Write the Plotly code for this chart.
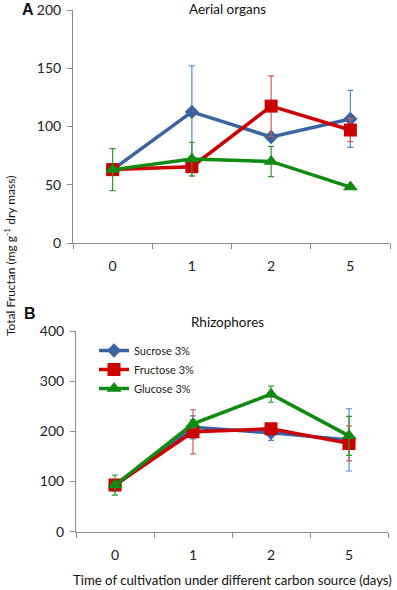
import plotly.graph_objects as go

days = ["0", "1", "2", "5"]
series_names = ["Sucrose 3%", "Fructose 3%", "Glucose 3%"]

# Panel A: aerial organs
aer_suc = [63, 112.5, 91, 106.5]
aer_suc_err = [5, 39.5, 3, 24.5]
aer_fru = [63, 65.5, 117.5, 97]
aer_fru_err = [5, 8, 26, 10]
aer_glu = [63, 72, 70, 48]
aer_glu_err = [18, 14.5, 13, 2]

# Panel B: rhizophores
rhi_suc = [92, 208, 197, 183]
rhi_suc_err = [10, 23, 15, 62]
rhi_fru = [93, 199, 205, 176]
rhi_fru_err = [10, 44, 8, 35]
rhi_glu = [93, 215, 274, 191]
rhi_glu_err = [20, 8, 16, 39]

y_ticks_a = [0, 50, 100, 150, 200]
y_ticks_b = [0, 100, 200, 300, 400]

colors = ["#3A64A0", "#CC0000", "#108A10"]
err_colors = ["#4C8CCB", "#D05858", "#2E9A2E"]
symbols = ["diamond", "square", "triangle-up"]
sizes = [11, 13, 13]

FONT = "Lato"
NARROW = "Liberation Sans Narrow, Lato"

fig = go.Figure()

panels = [
    ([aer_suc, aer_fru, aer_glu], [aer_suc_err, aer_fru_err, aer_glu_err], "x", "y", False),
    ([rhi_suc, rhi_fru, rhi_glu], [rhi_suc_err, rhi_fru_err, rhi_glu_err], "x2", "y2", True),
]
for vals_list, errs_list, xa, ya, legend in panels:
    for i, (vals, errs) in enumerate(zip(vals_list, errs_list)):
        fig.add_trace(go.Scatter(
            x=days, y=vals, xaxis=xa, yaxis=ya,
            mode="lines+markers",
            name=series_names[i],
            showlegend=legend,
            line=dict(color=colors[i], width=3.5),
            marker=dict(symbol=symbols[i], size=sizes[i], color=colors[i]),
            error_y=dict(type="data", array=errs, visible=True,
                         color=err_colors[i], thickness=1.2, width=3),
        ))

axis_common = dict(
    showline=True, linecolor="#8C8C8C", linewidth=1,
    ticks="outside", tickcolor="#8C8C8C", ticklen=5,
    showgrid=False, zeroline=False, automargin=False,
    tickfont=dict(family=FONT, size=14, color="#222"),
)

fig.update_layout(
    template="none",
    width=397, height=590,
    margin=dict(l=0, r=0, t=0, b=0, autoexpand=False),
    paper_bgcolor="white", plot_bgcolor="white",
    xaxis=dict(domain=[73/397, 390/397], anchor="y", type="category",
               categoryorder="array", categoryarray=days,
               tickson="boundaries", range=[-0.5, 3.5],
               ticklabelstandoff=10, **axis_common),
    yaxis=dict(domain=[1-243/590, 1-10/590], anchor="x", range=[0, 200],
               tickvals=y_ticks_a, ticklabelstandoff=3, **axis_common),
    xaxis2=dict(domain=[76/397, 388/397], anchor="y2", type="category",
                categoryorder="array", categoryarray=days,
                tickson="boundaries", range=[-0.5, 3.5],
                ticklabelstandoff=10, **axis_common),
    yaxis2=dict(domain=[1-531.7/590, 1-331/590], anchor="x2", range=[0, 400],
                tickvals=y_ticks_b, ticklabelstandoff=3, **axis_common),
    legend=dict(x=94/397, y=1-336/590, xanchor="left", yanchor="top",
                font=dict(family=FONT, size=11, color="#222"),
                bgcolor="rgba(0,0,0,0)", tracegroupgap=0, itemwidth=30),
    showlegend=True,
)

ann = [
    dict(text="Aerial organs", x=227/397, y=1-9/590, size=13.5, fam=FONT),
    dict(text="Rhizophores", x=227/397, y=1-322/590, size=13.5, fam=FONT),
    dict(text="<b>A</b>", x=28/397, y=1-10/590, size=16, fam="Arial"),
    dict(text="<b>B</b>", x=30/397, y=1-313/590, size=16, fam="Arial"),
    dict(text="Time of cultivation under different carbon source (days)",
         x=233/397, y=1-580/590, size=13.2, fam=NARROW),
]
for a in ann:
    fig.add_annotation(text=a["text"], x=a["x"], y=a["y"], xref="paper", yref="paper",
                       xanchor="center", yanchor="middle", showarrow=False,
                       font=dict(family=a["fam"], size=a["size"], color="#111"))

fig.add_annotation(text="Total Fructan (mg g<sup>-1</sup> dry mass)",
                   x=10/397, y=1-256/590, xref="paper", yref="paper",
                   xanchor="center", yanchor="middle", textangle=-90, showarrow=False,
                   font=dict(family=NARROW, size=12, color="#111"))

fig.write_html("out.html",
               config={"displayModeBar": False},
               post_script="document.body.style.margin='0';document.body.style.overflow='hidden';")
